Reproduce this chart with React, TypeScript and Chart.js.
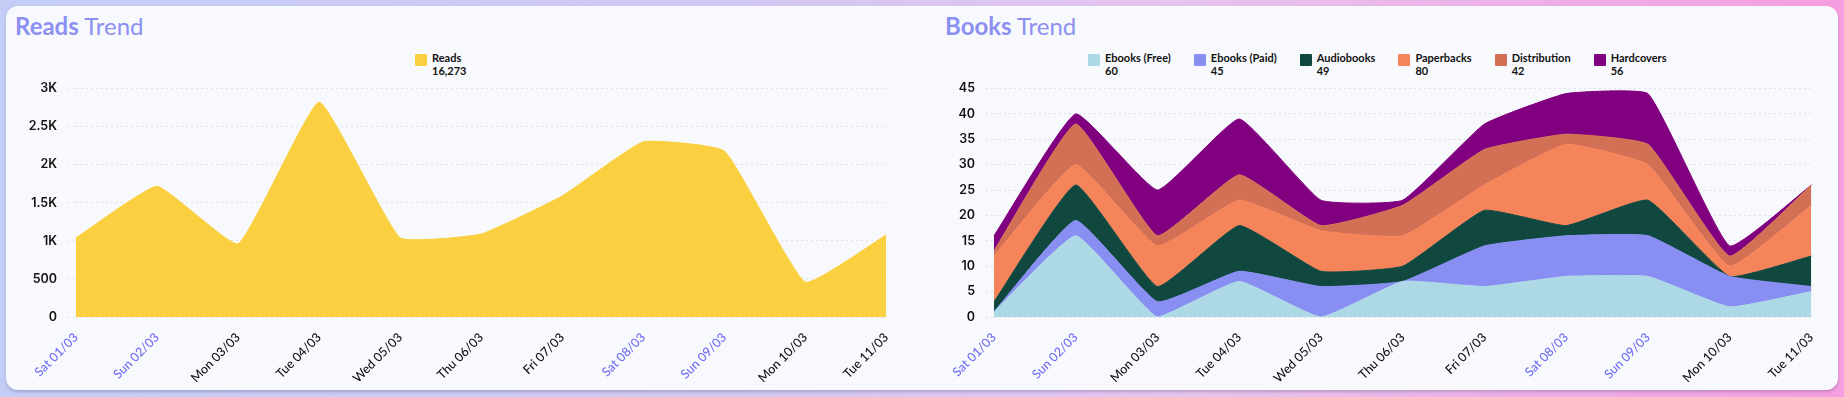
import React, { useEffect, useRef } from 'react';
import { Chart, registerables } from 'chart.js';

Chart.register(...registerables);

// ---------- data ----------
const dayLabels = ['Sat 01/03', 'Sun 02/03', 'Mon 03/03', 'Tue 04/03', 'Wed 05/03', 'Thu 06/03', 'Fri 07/03', 'Sat 08/03', 'Sun 09/03', 'Mon 10/03', 'Tue 11/03'];

const readsValues = [1038, 1716, 961, 2820, 1040, 1090, 1590, 2300, 2180, 458, 1080];

const ebooksFree = [1, 16, 0, 7, 0, 7, 6, 8, 8, 2, 5];
const ebooksPaid = [0, 3, 3, 2, 6, 0, 8, 8, 8, 6, 1];
const audiobooks = [2, 7, 3, 9, 3, 3, 7, 2, 7, 0, 6];
const paperbacks = [9, 4, 8, 5, 8, 6, 5, 16, 7, 2, 10];
const distribution = [1, 8, 2, 5, 1, 6, 7, 2, 4, 2, 4];
const hardcovers = [3, 2, 9, 11, 5, 1, 5, 8, 10, 2, 0];

const bookSeriesNames = ['Ebooks (Free)', 'Ebooks (Paid)', 'Audiobooks', 'Paperbacks', 'Distribution', 'Hardcovers'];
const bookSeriesValues = [ebooksFree, ebooksPaid, audiobooks, paperbacks, distribution, hardcovers];
const bookSeriesColors = ['#add8e6', '#888ef2', '#10483f', '#f6845a', '#d27055', '#800080'];

const readsColor = '#fad040';
const readsTickLabels: Record<number, string> = { 0: '0', 500: '500', 1000: '1K', 1500: '1.5K', 2000: '2K', 2500: '2.5K', 3000: '3K' };

// ---------- style ----------
const TITLE_COLOR = '#8b90f2';
const WEEKEND_COLOR = '#6d6df6';
const GRID_COLOR = '#dfe0ea';
const TEXT_COLOR = '#111111';

const sum = (a: number[]) => a.reduce((s, v) => s + v, 0);
const isWeekend = (l: string) => l.startsWith('Sat') || l.startsWith('Sun');

function baseOptions(yMax: number, step: number, yWidth: number, padRight: number, tickCb: (v: number) => string, stacked: boolean): any {
  return {
    animation: false,
    responsive: false,
    maintainAspectRatio: false,
    layout: { padding: { top: 15, right: padRight, left: 0, bottom: 0 } },
    plugins: { legend: { display: false }, tooltip: { enabled: false } },
    elements: { point: { radius: 0, hoverRadius: 0 }, line: { tension: 0.12, borderWidth: 1 } },
    scales: {
      x: {
        grid: { display: false, drawTicks: false },
        border: { display: false },
        ticks: {
          autoSkip: false,
          minRotation: 45,
          maxRotation: 45,
          padding: 13,
          font: { family: 'Lato', size: 12.5, weight: '500' },
          color: (ctx: any) => (isWeekend(dayLabels[ctx.index] || '') ? WEEKEND_COLOR : TEXT_COLOR),
        },
        afterFit: (s: any) => { s.height = 73; },
      },
      y: {
        stacked,
        min: 0,
        max: yMax,
        grid: { color: GRID_COLOR, drawTicks: true, tickLength: 8, tickBorderDash: [2, 3], lineWidth: 1 },
        border: { display: false, dash: [2, 3] },
        ticks: {
          stepSize: step,
          padding: 11,
          font: { family: 'Inter', size: 12.5, weight: '600' },
          color: TEXT_COLOR,
          callback: (v: any) => tickCb(Number(v)),
        },
        afterFit: (s: any) => { s.width = yWidth; },
      },
    },
  };
}

const ReadsChart: React.FC = () => {
  const ref = useRef<HTMLCanvasElement>(null);
  useEffect(() => {
    const chart = new Chart(ref.current!, {
      type: 'line',
      data: {
        labels: dayLabels,
        datasets: [
          {
            label: 'Reads',
            data: readsValues,
            fill: 'origin',
            backgroundColor: readsColor,
            borderColor: readsColor,
          },
        ],
      },
      options: baseOptions(3000, 500, 66, 17, (v) => readsTickLabels[v] ?? String(v), false),
    });
    return () => chart.destroy();
  }, []);
  return <canvas ref={ref} width={900} height={320} style={{ position: 'absolute', left: 10, top: 70, width: 900, height: 320 }} />;
};

const BooksChart: React.FC = () => {
  const ref = useRef<HTMLCanvasElement>(null);
  useEffect(() => {
    const chart = new Chart(ref.current!, {
      type: 'line',
      data: {
        labels: dayLabels,
        datasets: bookSeriesNames.map((name, i) => ({
          label: name,
          data: bookSeriesValues[i],
          fill: i === 0 ? 'origin' : '-1',
          backgroundColor: bookSeriesColors[i],
          borderColor: bookSeriesColors[i],
        })),
      },
      options: baseOptions(45, 5, 69, 14, (v) => String(v), true),
    });
    return () => chart.destroy();
  }, []);
  return <canvas ref={ref} width={910} height={320} style={{ position: 'absolute', left: 925, top: 70, width: 910, height: 320 }} />;
};

const Legend: React.FC<{ left: number; items: { name: string; color: string; total: number }[] }> = ({ left, items }) => (
  <div style={{ position: 'absolute', left, top: 52, display: 'flex', gap: 23 }}>
    {items.map((it) => (
      <div key={it.name} style={{ display: 'flex', alignItems: 'flex-start' }}>
        <span style={{ display: 'inline-block', width: 12, height: 12, background: it.color, marginTop: 2, marginRight: 5, borderRadius: 1 }} />
        <div style={{ fontFamily: 'Lato', fontWeight: 700, fontSize: 11, lineHeight: '12.5px', color: TEXT_COLOR, whiteSpace: 'nowrap' }}>
          <div>{it.name}</div>
          <div>{it.total.toLocaleString('en-US')}</div>
        </div>
      </div>
    ))}
  </div>
);

const Title: React.FC<{ left: number; bold: string; rest: string }> = ({ left, bold, rest }) => (
  <div style={{ position: 'absolute', left, top: 14, fontFamily: 'Lato', fontSize: 24, lineHeight: '24px', color: TITLE_COLOR, whiteSpace: 'nowrap' }}>
    <span style={{ fontWeight: 700 }}>{bold}</span>
    <span style={{ fontWeight: 400 }}> {rest}</span>
  </div>
);

export default function App() {
  return (
    <div
      style={{
        position: 'absolute',
        left: 0,
        top: 0,
        width: 1844,
        height: 397,
        overflow: 'hidden',
        background: 'linear-gradient(90deg, #c3cdf6 0%, #d2c9f4 40%, #e6c3ee 65%, #f59ee0 100%)',
      }}
    >
      <div
        style={{
          position: 'absolute',
          left: 6,
          top: 6,
          width: 1832,
          height: 384,
          borderRadius: 12,
          background: '#f8f9fd',
          boxShadow: '0 2px 3px rgba(60,60,100,0.25)',
        }}
      />
      <Title left={15} bold="Reads" rest="Trend" />
      <Title left={945} bold="Books" rest="Trend" />
      <Legend left={415} items={[{ name: 'Reads', color: readsColor, total: sum(readsValues) }]} />
      <Legend
        left={1088}
        items={bookSeriesNames.map((n, i) => ({ name: n, color: bookSeriesColors[i], total: sum(bookSeriesValues[i]) }))}
      />
      <ReadsChart />
      <BooksChart />
    </div>
  );
}
